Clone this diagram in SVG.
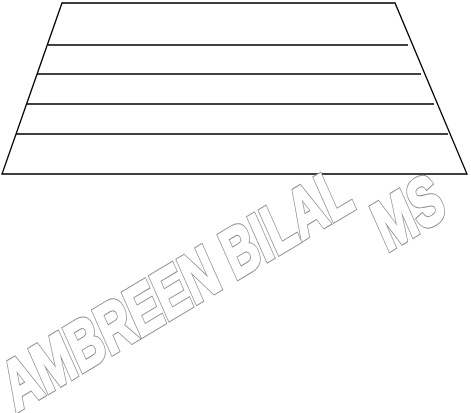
<svg xmlns="http://www.w3.org/2000/svg" width="471" height="413" viewBox="0 0 471 413">
  <style>
    .edge { stroke: #000; stroke-width: 1.3; fill: none; }
    .wm { font-family: "Liberation Sans", Arial, sans-serif; font-weight: bold; font-size: 68px; }
    .halo { fill: #8c8c8c; stroke: #8c8c8c; stroke-width: 4.6; stroke-linejoin: miter; }
    .face { fill: #fff; stroke: #fff; stroke-width: 2.6; stroke-linejoin: miter; }
  </style>
  <defs>
    <text id="t1" class="wm" transform="translate(16,412) rotate(-31) skewX(-7) scale(0.705,1)">AMBREEN BILAL</text>
    <text id="t2" class="wm" transform="translate(387,252) rotate(-31) skewX(-7) scale(0.705,1)">MS</text>
  </defs>
  <rect x="0" y="0" width="471" height="413" fill="#fff"/>
  <g id="trapezoid">
    <polygon class="edge" points="62,3 395,3 467,174 2,174"/>
    <line class="edge" x1="48" y1="45" x2="408" y2="45"/>
    <line class="edge" x1="37" y1="74" x2="421" y2="74"/>
    <line class="edge" x1="27" y1="104" x2="434" y2="104"/>
    <line class="edge" x1="16" y1="134" x2="448" y2="134"/>
  </g>
  <g id="watermark">
    <use href="#t1" class="halo"/>
    <use href="#t1" class="face"/>
    <use href="#t2" class="halo"/>
    <use href="#t2" class="face"/>
  </g>
</svg>
